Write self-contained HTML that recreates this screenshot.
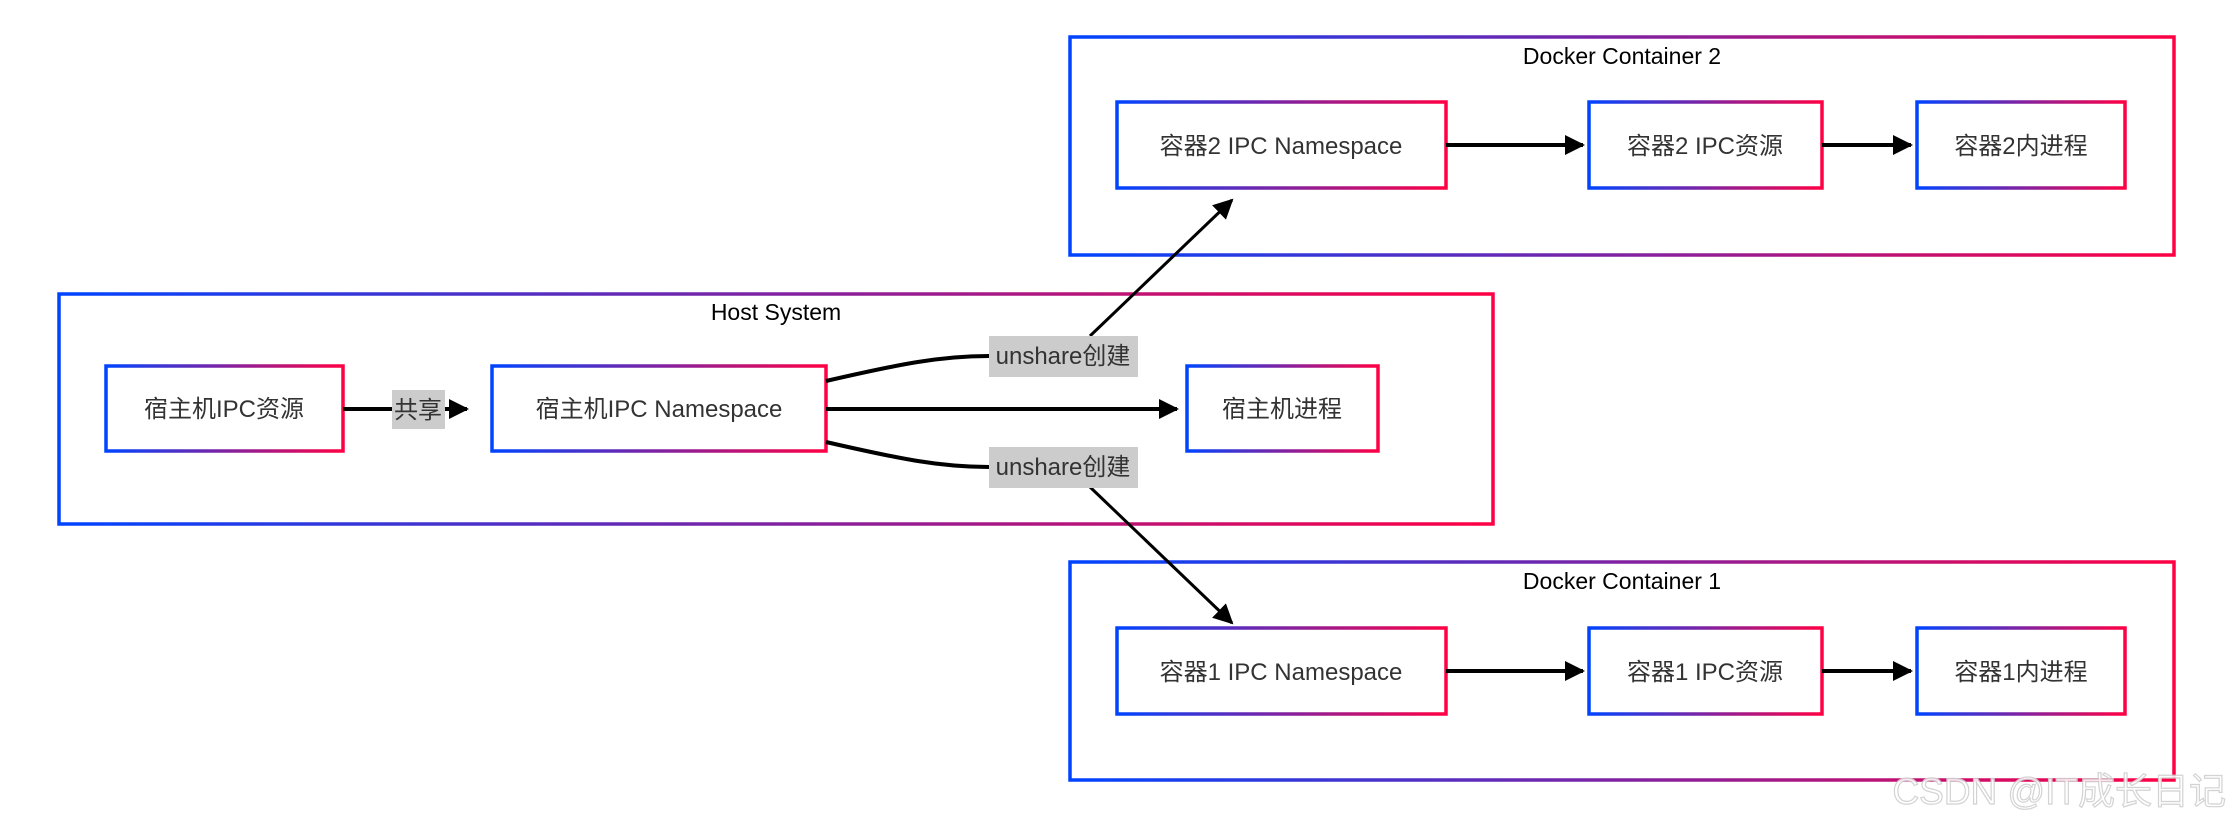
<!DOCTYPE html>
<html><head><meta charset="utf-8"><style>
html,body{margin:0;padding:0;background:#fff;}
svg{display:block;}
text{font-family:"Liberation Sans","Noto Sans CJK SC",sans-serif;}
</style></head><body>
<svg width="2232" height="822" viewBox="0 0 2232 822" xmlns="http://www.w3.org/2000/svg">
<defs>
<linearGradient id="g" x1="0" y1="0" x2="1" y2="0">
<stop offset="0" stop-color="#0044ff"/><stop offset="1" stop-color="#ff0044"/>
</linearGradient>
<marker id="a" markerWidth="10" markerHeight="10" refX="9" refY="5" orient="auto" markerUnits="userSpaceOnUse" viewBox="0 0 10 10">
<path d="M0,0 L10,5 L0,10 z" fill="#000"/>
</marker>
<marker id="b" viewBox="0 0 10 10" refX="9" refY="5" markerWidth="20" markerHeight="20" orient="auto" markerUnits="userSpaceOnUse">
<path d="M0,0 L10,5 L0,10 z" fill="#000"/>
</marker>
</defs>
<g fill="none" stroke="url(#g)" stroke-width="3.5">
<rect x="59" y="294" width="1434" height="230"/>
<rect x="1070" y="37" width="1104" height="218"/>
<rect x="1070" y="562" width="1104" height="218"/>
<rect x="106" y="366" width="237" height="85"/>
<rect x="492" y="366" width="334" height="85"/>
<rect x="1187" y="366" width="191" height="85"/>
<rect x="1117" y="102" width="329" height="86"/>
<rect x="1589" y="102" width="233" height="86"/>
<rect x="1917" y="102" width="208" height="86"/>
<rect x="1117" y="628" width="329" height="86"/>
<rect x="1589" y="628" width="233" height="86"/>
<rect x="1917" y="628" width="208" height="86"/>
</g>
<g font-size="23" fill="#000" text-anchor="middle">
<text x="776" y="320">Host System</text>
<text x="1622" y="64">Docker Container 2</text>
<text x="1622" y="589">Docker Container 1</text>
</g>
<g stroke="#000" stroke-width="4" fill="none" marker-end="url(#b)">
<path d="M343 409 L467 409"/>
<path d="M826 409 L1177 409"/>
<path d="M1446 145 L1583 145"/>
<path d="M1822 145 L1911 145"/>
<path d="M1446 671 L1583 671"/>
<path d="M1822 671 L1911 671"/>
<path d="M1090 336 L1232 200" stroke-width="3"/>
<path d="M1090 487 L1232 623" stroke-width="3"/>
</g>
<g stroke="#000" stroke-width="4" fill="none">
<path d="M826 381 C900 364 940 356 989 356"/>
<path d="M826 442 C900 459 940 467 989 467"/>
</g>
<g fill="#cccccc">
<rect x="392" y="390" width="53" height="39"/>
<rect x="989" y="336" width="149" height="41"/>
<rect x="989" y="447" width="149" height="41"/>
</g>
<g font-size="24" fill="#333" text-anchor="middle">
<text x="418" y="418">共享</text>
<text x="1063" y="364">unshare创建</text>
<text x="1063" y="475">unshare创建</text>
<text x="224" y="417">宿主机IPC资源</text>
<text x="659" y="417">宿主机IPC Namespace</text>
<text x="1282" y="417">宿主机进程</text>
<text x="1281" y="154">容器2 IPC Namespace</text>
<text x="1705" y="154">容器2 IPC资源</text>
<text x="2021" y="154">容器2内进程</text>
<text x="1281" y="680">容器1 IPC Namespace</text>
<text x="1705" y="680">容器1 IPC资源</text>
<text x="2021" y="680">容器1内进程</text>
</g>
<text x="2226" y="804" font-size="37" text-anchor="end" fill="#ffffff" stroke="#cfcfcf" stroke-width="1.2" opacity="0.9">CSDN @IT成长日记</text>
</svg>
</body></html>
